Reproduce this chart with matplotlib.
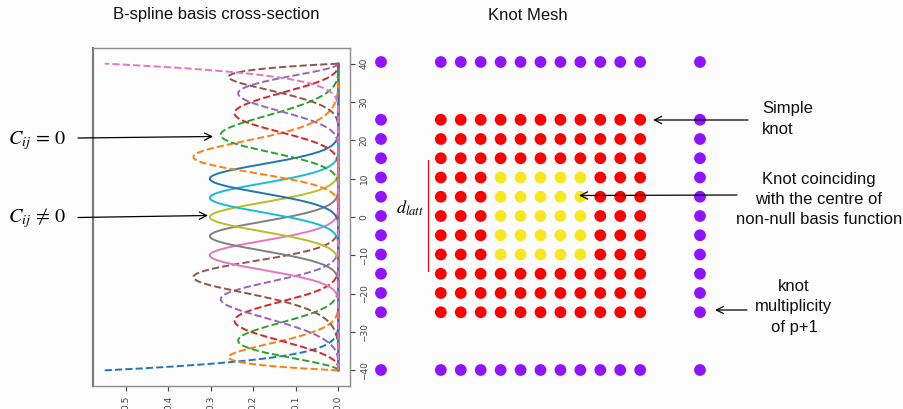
import numpy as np
import matplotlib
matplotlib.use("Agg")
import matplotlib.pyplot as plt
from matplotlib.lines import Line2D

# ---------------- data ----------------
knot_positions = [-40, -25, -20, -15, -10, -5, 0, 5, 10, 15, 20, 25, 40]
degree = 5
basis_scale = 0.55
centre_knots = [-10, -5, 0, 5, 10]
x_ticks = [0.0, 0.1, 0.2, 0.3, 0.4, 0.5]
y_ticks = [-40, -30, -20, -10, 0, 10, 20, 30, 40]

plt.rcParams['mathtext.fontset'] = 'stix'
plt.rcParams['font.family'] = ['DejaVu Sans']
W, H = 904, 409


def bspline_basis(t, p, xs):
    t = np.asarray(t, float)
    m = len(t) - 1
    N = np.zeros((m, xs.size))
    for i in range(m):
        if t[i] < t[i + 1]:
            N[i] = ((xs >= t[i]) & (xs < t[i + 1])).astype(float)
    last = max(i for i in range(m) if t[i] < t[i + 1])
    N[last, xs == t[-1]] = 1.0
    for k in range(1, p + 1):
        Nn = np.zeros((m - k, xs.size))
        for i in range(m - k):
            a = np.zeros_like(xs)
            b = np.zeros_like(xs)
            if t[i + k] > t[i]:
                a = (xs - t[i]) / (t[i + k] - t[i]) * N[i]
            if t[i + k + 1] > t[i + 1]:
                b = (t[i + k + 1] - xs) / (t[i + k + 1] - t[i + 1]) * N[i + 1]
            Nn[i] = a + b
        N = Nn
    return N


lo, hi = knot_positions[0], knot_positions[-1]
full_knots = [lo] * degree + knot_positions + [hi] * degree
xs = np.linspace(lo, hi, 321)
N = bspline_basis(full_knots, degree, xs)

fig = plt.figure(figsize=(W / 100, H / 100), dpi=100)
fig.patch.set_facecolor('#fcfcfc')

# ---------------- left: basis cross-section ----------------
ax = fig.add_axes([93 / W, 1 - 385.7 / H, (350 - 93) / W, (385.7 - 48.3) / H])
ax.set_facecolor('#fdfdfd')
inner_lo, inner_hi = knot_positions[1], knot_positions[-2]
for i in range(N.shape[0]):
    s_lo, s_hi = full_knots[i], full_knots[i + degree + 1]
    ls = '-' if (s_lo >= inner_lo and s_hi <= inner_hi) else '--'
    ax.plot(N[i] * basis_scale, xs, ls=ls, lw=1.4, color=f'C{i % 10}')

ax.set_xlim(0.5775, -0.0275)
ax.set_ylim(-44, 44)
ax.yaxis.tick_right()
ax.set_xticks(x_ticks)
ax.set_xticklabels([f'{v:.1f}' for v in x_ticks])
ax.set_yticks(y_ticks)
ax.tick_params(axis='both', labelsize=6.5, colors='#444444', length=3.5, width=0.8)
ax.tick_params(axis='x', labelrotation=90)
ax.tick_params(axis='y', labelrotation=90)
for lab in ax.get_yticklabels():
    lab.set_va('center')
for sp in ax.spines.values():
    sp.set_color('#8c8c8c')
    sp.set_linewidth(1.0)
ax.spines['left'].set_linewidth(1.6)
ax.spines['left'].set_color('#7a7a7a')

# ---------------- right: knot mesh ----------------
axm = fig.add_axes([381 / W, 1 - 370 / H, 319 / W, 308 / H])
axm.set_xlim(lo, hi)
axm.set_ylim(lo, hi)
axm.axis('off')
px, py, pc = [], [], []
for kx in knot_positions:
    for ky in knot_positions:
        px.append(kx)
        py.append(ky)
        if kx in (lo, hi) or ky in (lo, hi):
            pc.append('#9013fe')
        elif kx in centre_knots and ky in centre_knots:
            pc.append('#f8e71c')
        else:
            pc.append('#ff0000')
axm.scatter(px, py, s=72, c=pc, edgecolors='none', clip_on=False, zorder=3)

# ---------------- texts & arrows ----------------
sans = ['Liberation Sans', 'DejaVu Sans']
fig.text(216 / W, 1 - 15 / H, 'B-spline basis cross-section', ha='center', va='center',
         fontsize=12, family=sans, color='#111111')
fig.text(527.5 / W, 1 - 15 / H, 'Knot Mesh', ha='center', va='center',
         fontsize=12, family=sans, color='#111111')

fig.text(762 / W, 1 - 119 / H, 'Simple\nknot', ha='left', va='center',
         fontsize=12, family=sans, linespacing=1.5, color='#111111')
fig.text(819 / W, 1 - 199.5 / H, 'Knot coinciding\nwith the centre of\nnon-null basis function',
         ha='center', va='center', multialignment='center',
         fontsize=12, family=sans, linespacing=1.42, color='#111111')
fig.text(794 / W, 1 - 307 / H, 'knot\nmultiplicity\nof p+1', ha='center', va='center',
         multialignment='center', fontsize=12, family=sans, linespacing=1.45, color='#111111')

fig.text(8 / W, 1 - 141 / H, r'$C_{ij}\,=\,0$', ha='left', va='center', fontsize=14.5)
fig.text(8 / W, 1 - 218 / H, r'$C_{ij}\,\neq\,0$', ha='left', va='center', fontsize=14.5)
fig.text(410 / W, 1 - 208 / H, r'$d_{latt}$', ha='center', va='center', fontsize=13)

fig.add_artist(Line2D([428 / W, 428 / W], [1 - 160 / H, 1 - 271 / H],
                      transform=fig.transFigure, color='#ff0000', lw=0.8))

arrows = [((78, 138), (213, 136.5)),
          ((78, 217.5), (208, 215.5)),
          ((748, 120), (653, 120)),
          ((737, 195), (579, 195.5)),
          ((747, 310), (715, 310))]
for (x0, y0), (x1, y1) in arrows:
    fig.add_artist(matplotlib.patches.FancyArrowPatch(
        (x0 / W, 1 - y0 / H), (x1 / W, 1 - y1 / H), transform=fig.transFigure,
        arrowstyle='->', mutation_scale=13, lw=0.9, color='black',
        shrinkA=0, shrinkB=0, zorder=5))

fig.savefig('out.png', dpi=100, facecolor=fig.get_facecolor())
